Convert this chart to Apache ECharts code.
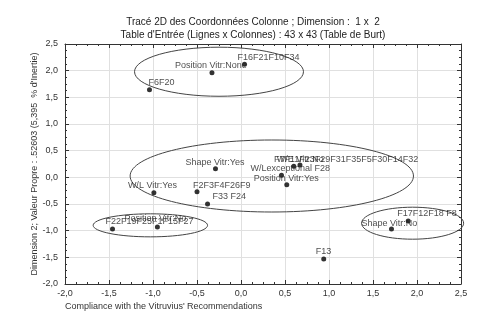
<!DOCTYPE html>
<html><head><meta charset="utf-8">
<script src="https://cdn.jsdelivr.net/npm/echarts@6/dist/echarts.min.js"></script>
<style>html,body{margin:0;padding:0;background:#fff}#c{width:480px;height:318px}</style>
</head><body><div id="c"></div>
<script>
// ---- data ----
const pointNames = [
  "F16F21F10F34", "Position Vitr:None", "F6F20", "Shape Vitr:Yes",
  "W/E Vitr:No", "F7F11F23F29F31F35F5F30F14F32", "W/Lexceptional F28", "Position Vitr:Yes",
  "W/L Vitr:Yes", "F2F3F4F26F9", "F33 F24", "F22F19F25F1F15F27",
  "Position Vitr:No", "Shape Vitr:No", "F17F12F18 F8", "F13"
];
const pointX = [0.04, -0.33, -1.04, -0.29, 0.60, 0.67, 0.46, 0.52, -0.99, -0.50, -0.38, -1.46, -0.95, 1.71, 1.90, 0.94];
const pointY = [2.12, 1.96, 1.64, 0.16, 0.21, 0.23, 0.04, -0.14, -0.29, -0.27, -0.50, -0.97, -0.93, -0.97, -0.82, -1.53];

const ellipseCx = [-0.25, 0.35, -1.03, 1.95];
const ellipseCy = [1.98, 0.025, -0.90, -0.86];
const ellipseRx = [0.96, 1.61, 0.65, 0.58];
const ellipseRy = [0.46, 0.675, 0.216, 0.30];

const titleLines = ["Tracé 2D des Coordonnées Colonne ; Dimension :  1 x  2", "Table d'Entrée (Lignes x Colonnes) : 43 x 43 (Table de Burt)"];
const xAxisTitle = "Compliance with the Vitruvius' Recommendations";
const yAxisTitle = "Dimension 2; Valeur Propre : .52603 (5,395  % d'Inertie)";

// ---- layout (label offsets in px, not data) ----
const labelOffsets = [
  [-7,-7],[-37,-7],[-1,-7],[-30,-6],
  [-17,-7],[-26,-6],[-31,-7],[-33,-6],
  [-26,-7],[-4,-6],[5,-7],[-7,-8],
  [-33,-8],[-30,-6],[-11,-8],[-8,-7]
];

const FONT = "Liberation Sans, Arial, sans-serif";
const fmt = v => v.toFixed(1).replace('.', ',');

const chart = echarts.init(document.getElementById('c'), null, {renderer: 'canvas'});
const axisCommon = {
  type: 'value', min: -2, max: 2.5, interval: 0.5,
  axisLine: {show: true, onZero: false, lineStyle: {color: '#333', width: 1}},
  axisTick: {show: true, inside: true, length: 4, lineStyle: {color: '#333'}},
  minorTick: {show: true, splitNumber: 4, length: 2, lineStyle: {color: '#333'}},
  splitLine: {show: false}
};
chart.setOption({
  animation: false,
  backgroundColor: '#fff',
  textStyle: {fontFamily: FONT},
  title: {
    text: titleLines.join('\n'),
    left: 248, top: 11, textAlign: 'center',
    textStyle: {fontSize: 10, fontWeight: 'normal', color: '#222', lineHeight: 13, fontFamily: FONT}
  },
  grid: {left: 65, right: 19, top: 44, bottom: 34, containLabel: false},
  xAxis: [
    Object.assign({}, axisCommon, {
      position: 'bottom',
      splitLine: {show: true, lineStyle: {color: '#e0e0e0', width: 1}},
      axisLabel: {formatter: fmt, fontSize: 9, color: '#333', margin: 5, fontFamily: FONT}
    }),
    Object.assign({}, axisCommon, {position: 'top', axisLabel: {show: false}})
  ],
  yAxis: [
    Object.assign({}, axisCommon, {
      position: 'left',
      splitLine: {show: true, lineStyle: {color: '#e0e0e0', width: 1}},
      axisLabel: {formatter: fmt, fontSize: 9, color: '#333', margin: 7, fontFamily: FONT},
      name: yAxisTitle, nameLocation: 'middle', nameGap: 26, nameRotate: 90,
      nameMoveOverlap: false,
      nameTextStyle: {fontSize: 9, color: '#333', fontFamily: FONT}
    }),
    Object.assign({}, axisCommon, {position: 'right', axisLabel: {show: false}})
  ],
  graphic: [{
    type: 'text', left: 65, top: 302,
    style: {text: xAxisTitle, font: '9px ' + FONT, fill: '#333'}
  }],
  series: [
    {
      type: 'custom', xAxisIndex: 0, yAxisIndex: 0, clip: false, silent: true,
      data: ellipseCx.map((cx, i) => [cx, ellipseCy[i], ellipseRx[i], ellipseRy[i]]),
      encode: {x: 0, y: 1},
      renderItem: function (params, api) {
        const c = api.coord([api.value(0), api.value(1)]);
        const s = api.size([api.value(2), api.value(3)]);
        return {type: 'ellipse', shape: {cx: c[0], cy: c[1], rx: s[0], ry: s[1]},
                style: {fill: 'none', stroke: '#444', lineWidth: 1}};
      },
      z: 2
    },
    {
      type: 'scatter', xAxisIndex: 0, yAxisIndex: 0,
      symbol: 'circle', symbolSize: 5,
      itemStyle: {color: '#000'},
      data: pointNames.map((n, i) => ({
        name: n, value: [pointX[i], pointY[i]],
        label: {offset: labelOffsets[i]}
      })),
      label: {
        show: true, position: 'inside', align: 'left', verticalAlign: 'middle',
        formatter: p => p.name, fontSize: 9, color: '#222', fontFamily: FONT
      },
      z: 3
    }
  ]
});
</script></body></html>
